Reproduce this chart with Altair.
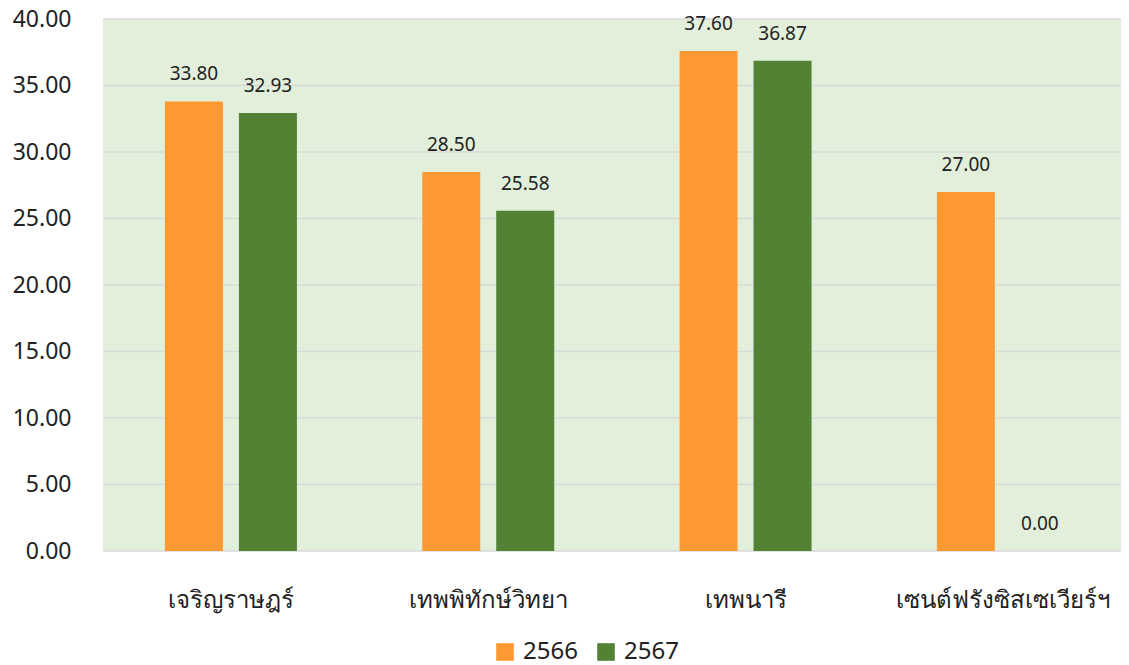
import altair as alt
import pandas as pd

schools = ["เจริญราษฎร์", "เทพพิทักษ์วิทยา", "เทพนารี", "เซนต์ฟรังซิสเซเวียร์ฯ"]
years = ["2566", "2567"]
values_2566 = [33.80, 28.50, 37.60, 27.00]
values_2567 = [32.93, 25.58, 36.87, 0.00]
colors = ["#FF9933", "#548235"]
y_ticks = [0, 5, 10, 15, 20, 25, 30, 35, 40]

rows = []
for s, a, b in zip(schools, values_2566, values_2567):
    rows.append({"school": s, "year": years[0], "value": a})
    rows.append({"school": s, "year": years[1], "value": b})
df = pd.DataFrame(rows)
df["label"] = df["value"].map(lambda v: f"{v:.2f}")

FONT = "Noto Sans"
W, H = 1018, 532

x = alt.X("school:N", sort=schools,
          scale=alt.Scale(paddingInner=0.487, paddingOuter=0.2216, align=0.543),
          axis=alt.Axis(title=None, labelAngle=0, labelFontSize=24, labelColor="#222222",
                        labelFont=FONT, ticks=False, domain=False, labelPadding=49,
                        labelBaseline="middle", labelLimit=0))
y = alt.Y("value:Q", scale=alt.Scale(domain=[0, 40], nice=False),
          axis=alt.Axis(title=None, values=y_ticks, format=".2f",
                        labelFontSize=23, labelColor="#222222", labelFont=FONT,
                        ticks=False, domain=False, labelPadding=32, grid=False))
xo = alt.XOffset("year:N", sort=years, scale=alt.Scale(paddingInner=0.216, paddingOuter=0))
color = alt.Color("year:N", sort=years, scale=alt.Scale(domain=years, range=colors),
                  legend=alt.Legend(title=None, orient="none", legendX=390, legendY=621,
                                    direction="horizontal", symbolType="square",
                                    symbolSize=310, symbolStrokeWidth=0, labelFontSize=24,
                                    labelFont=FONT, labelColor="#222222", columnPadding=16,
                                    labelOffset=6))

bg = alt.Chart(pd.DataFrame({"a": [0]})).mark_rect(color="#E2EFDA").encode(
    x=alt.value(0), x2=alt.value(W), y=alt.value(0), y2=alt.value(H))
grid = alt.Chart(pd.DataFrame({"v": y_ticks})).mark_rule(color="#D9D9D9", strokeWidth=1.5).encode(
    y=alt.Y("v:Q"), x=alt.value(0), x2=alt.value(W))
bars = alt.Chart(df).mark_bar().encode(x=x, y=y, xOffset=xo, color=color)
labels = alt.Chart(df).mark_text(dy=-27, baseline="middle", fontSize=19, font=FONT,
                                 color="#222222").encode(
    x=x, y=y, xOffset=xo, text="label:N")

chart = alt.layer(bg, grid, bars, labels).properties(
    width=W, height=H,
    autosize=alt.AutoSizeParams(type="none"),
    padding={"left": 95, "top": 11, "right": 0, "bottom": 116},
).configure_view(stroke=None)

chart.save("out.html", embed_options={"renderer": "svg", "actions": False})
